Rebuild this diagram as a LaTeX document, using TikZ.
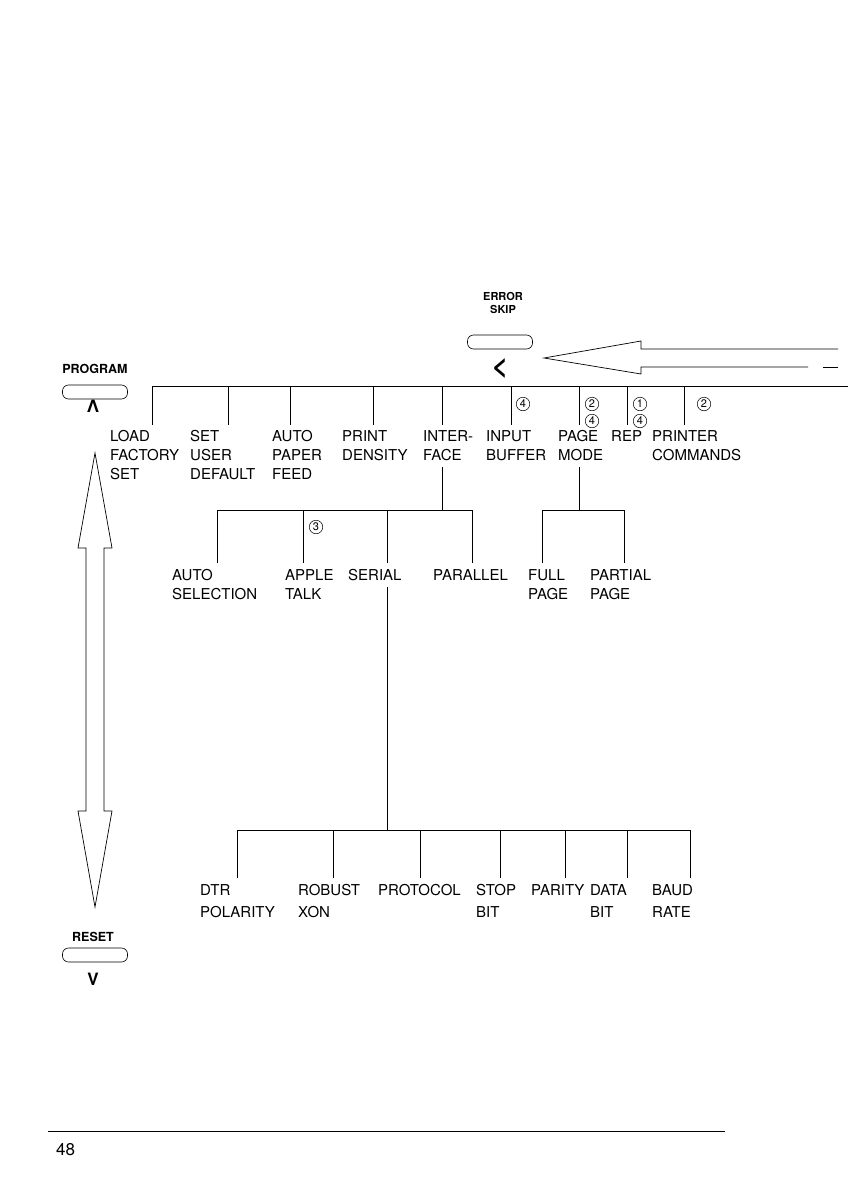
\documentclass[tikz,border=0pt]{standalone}
\usepackage{fontspec}
\usepackage{tikz}
\usetikzlibrary{positioning, calc}
\newfontfamily\heros{TeX Gyre Heros}
\newcommand\menufont{\heros\fontsize{15}{19}\selectfont}
\newcommand\keyfont{\heros\bfseries\fontsize{12.5}{13}\selectfont}
\newcommand\skipfont{\heros\bfseries\fontsize{11}{13}\selectfont}
\newcommand\numfont{\heros\fontsize{11}{11}\selectfont}
\newcommand\pagefont{\heros\fontsize{17}{17}\selectfont}

\begin{document}
\begin{tikzpicture}[
        x=1pt, y=-1pt,
        menu/.style={anchor=north west, inner sep=0pt, align=left, font=\menufont},
        widemenu/.style={menu, font=\heros\fontsize{15}{22.5}\selectfont},
        key/.style={draw, rounded corners=6pt, minimum width=65pt, minimum height=14pt, inner sep=0pt, line width=0.6pt},
        keylabel/.style={font=\keyfont, align=center, inner sep=0pt},
        chevron/.style={font=\heros\bfseries\fontsize{17}{17}\selectfont, inner sep=0pt},
        num/.style={circle, draw, line width=0.5pt, inner sep=0pt, minimum size=13.5pt, font=\numfont},
        tree/.style={line width=0.75pt},
        hollow/.style={draw, line width=0.7pt, line join=miter}
    ]
    \useasboundingbox (0,0) rectangle (848,1196);

    % Keys
    \node[keylabel, font=\skipfont] (errlbl) at (503,303) {ERROR\\SKIP};
    \node[key] (errkey) at (500,342) {};
    \node[chevron, font=\heros\bfseries\fontsize{28}{28}\selectfont] (errdir) at (500,368) {<};
    \node[keylabel] (proglbl) at (95,369) {PROGRAM};
    \node[key] (progkey) at (95,392) {};
    \node[chevron] (progdir) at (93,406) {Λ};
    \node[keylabel] (resetlbl) at (93,937) {RESET};
    \node[key] (resetkey) at (95,955) {};
    \node[chevron] (resetdir) at (93,979) {V};

    % Hollow arrows
    \draw[hollow] (838,349) -- (641,349) -- (641,341) -- (544,358) -- (641,374) -- (641,367) -- (808,367);
    \draw[hollow] (823,367) -- (838,367);
    \draw[hollow] (86,650) -- (86,548) -- (78,548) -- (95,453) -- (112,548) -- (104,548) -- (104,811)
        -- (112,811) -- (95,907) -- (78,811) -- (86,811) -- cycle;

    % Main menu
    \node[menu] (load) at (110,430) {LOAD\\FACTORY\\SET};
    \node[menu] (userdef) at (190,430) {SET\\USER\\DEFAULT};
    \node[menu] (feed) at (272,430) {AUTO\\PAPER\\FEED};
    \node[menu] (density) at (342,430) {PRINT\\DENSITY};
    \node[menu] (iface) at (423,430) {INTER-\\FACE};
    \node[menu] (buffer) at (486,430) {INPUT\\BUFFER};
    \node[menu] (pagemode) at (558,430) {PAGE\\MODE};
    \node[menu] (rep) at (611,430) {REP};
    \node[menu] (commands) at (652,430) {PRINTER\\COMMANDS};

    \coordinate (bus0) at (152,386);
    \coordinate (busend) at (848,386);
    \draw[tree] (bus0) -- (busend);
    \foreach \x/\n in {152/load, 228/userdef, 290/feed, 373/density, 442/iface,
                       511/buffer, 579/pagemode, 627/rep, 684/commands}
        \draw[tree] (\x,386) -- ([yshift=5pt]\x,386 |- \n.north);

    \node[num] (n4a) at (523,404) {4};
    \node[num] (n2a) at (592,404) {2};
    \node[num] (n4b) at (592,421) {4};
    \node[num] (n1a) at (640,404) {1};
    \node[num] (n4c) at (640,421) {4};
    \node[num] (n2b) at (704,404) {2};

    % Interface
    \node[menu] (autosel) at (172,569) {AUTO\\SELECTION};
    \node[menu] (apple) at (285,569) {APPLE\\TALK};
    \node[menu] (serial) at (348,569) {SERIAL};
    \node[menu] (parallel) at (433,569) {PARALLEL};
    \coordinate (ifork) at (442,510);
    \draw[tree] ([yshift=-6pt]ifork |- iface.south) -- (ifork);
    \draw[tree] (217,510) -- (472,510);
    \foreach \x/\n in {217/autosel, 303/apple, 387/serial, 472/parallel}
        \draw[tree] (\x,510) -- ([yshift=6pt]\x,510 |- \n.north);
    \node[num] (n3a) at (316,527) {3};

    % Page mode
    \node[menu] (fullpage) at (528,569) {FULL\\PAGE};
    \node[menu] (partpage) at (590,569) {PARTIAL\\PAGE};
    \coordinate (pfork) at (579,510);
    \draw[tree] ([yshift=-6pt]pfork |- pagemode.south) -- (pfork);
    \draw[tree] (542,510) -- (624,510);
    \foreach \x/\n in {542/fullpage, 624/partpage}
        \draw[tree] (\x,510) -- ([yshift=6pt]\x,510 |- \n.north);

    % Serial
    \node[widemenu] (dtr) at (200,884) {DTR\\POLARITY};
    \node[widemenu] (robust) at (298,884) {ROBUST\\XON};
    \node[widemenu] (protocol) at (378,884) {PROTOCOL};
    \node[widemenu] (stopbit) at (476,884) {STOP\\BIT};
    \node[widemenu] (parity) at (531,884) {PARITY};
    \node[widemenu] (databit) at (590,884) {DATA\\BIT};
    \node[widemenu] (baud) at (652,884) {BAUD\\RATE};
    \coordinate (sfork) at (387,830);
    \draw[tree] ([yshift=-6pt]sfork |- serial.south) -- (sfork);
    \draw[tree] (237,830) -- (690,830);
    \foreach \x/\n in {237/dtr, 333/robust, 420/protocol, 500/stopbit,
                       565/parity, 627/databit, 690/baud}
        \draw[tree] (\x,830) -- ([yshift=6pt]\x,830 |- \n.north);

    % Footer
    \coordinate (rulel) at (48,1131);
    \coordinate (ruler) at (725,1131);
    \draw[line width=0.6pt] (rulel) -- (ruler);
    \node[font=\pagefont, anchor=west, inner sep=0pt] (pageno) at (56,1150) {48};

\end{tikzpicture}
\end{document}
